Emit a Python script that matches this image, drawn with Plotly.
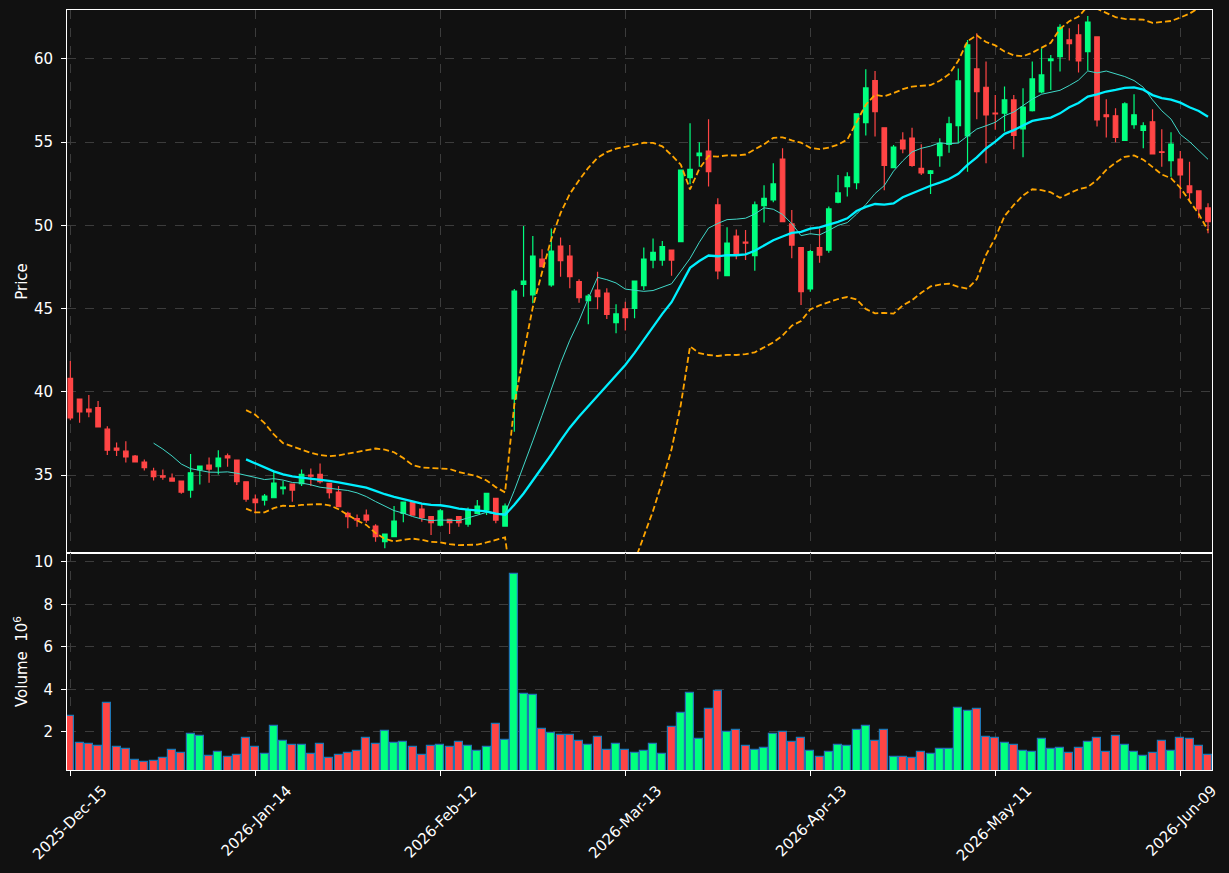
import pandas as pd
import numpy as np
import plotly.graph_objects as go
from plotly.subplots import make_subplots

# ---------------- data ----------------
holidays = ["2025-12-25", "2026-01-01", "2026-01-19", "2026-02-16", "2026-04-03", "2026-05-25"]
dates = [d for d in pd.bdate_range("2025-12-15", "2026-06-12") if d.strftime("%Y-%m-%d") not in holidays]

open_ = [40.81, 39.57, 38.97, 39.05, 37.76, 36.62, 36.44, 36.14, 35.78, 35.24,
         34.96, 34.82, 34.64, 34.10, 35.32, 35.60, 35.50, 36.16, 35.90, 34.60,
         33.56, 33.50, 33.64, 34.18, 34.46, 34.48, 35.00, 35.04, 34.50, 33.98,
         32.70, 32.38, 32.60, 31.94, 31.00, 31.30, 32.70, 33.38, 32.96, 32.50,
         32.00, 32.34, 32.50, 32.06, 32.70, 32.90, 33.60, 31.94, 39.57, 46.46,
         45.82, 47.98, 46.42, 48.76, 48.16, 46.62, 45.48, 46.12, 45.94, 44.16,
         44.98, 45.02, 46.38, 47.92, 47.92, 48.52, 49.02, 52.87, 54.19, 54.47,
         51.23, 46.98, 49.36, 49.00, 48.18, 51.19, 51.53, 53.99, 50.09, 48.66,
         46.18, 48.66, 48.52, 51.39, 52.33, 52.57, 56.18, 58.70, 55.86, 53.47,
         55.13, 55.25, 53.43, 53.13, 54.19, 54.87, 55.99, 55.37, 59.40, 58.30,
         56.74, 56.74, 57.54, 55.79, 56.90, 58.02, 59.90, 60.14, 61.14, 61.44,
         60.44, 61.32, 56.64, 56.58, 55.10, 56.06, 55.70, 56.22, 54.42, 53.89,
         53.99, 52.37, 52.07, 51.05]

high = [41.85, 39.57, 39.81, 39.45, 37.94, 36.96, 37.04, 36.20, 35.94, 35.44,
        35.34, 35.10, 34.64, 36.26, 35.54, 36.06, 36.50, 36.30, 35.90, 34.60,
        33.84, 33.86, 35.26, 34.64, 34.46, 35.34, 35.40, 35.70, 34.50, 34.34,
        32.80, 32.64, 32.94, 32.04, 31.46, 33.14, 33.38, 33.38, 33.30, 32.50,
        32.96, 32.34, 32.50, 33.06, 33.50, 33.90, 33.60, 33.30, 46.18, 49.97,
        49.36, 48.56, 49.82, 49.28, 48.82, 46.76, 45.88, 47.22, 46.22, 45.26,
        45.42, 46.66, 48.68, 49.22, 49.06, 48.52, 53.32, 56.13, 54.99, 56.37,
        51.63, 49.89, 49.76, 49.72, 51.43, 52.41, 53.73, 54.63, 50.93, 48.66,
        48.52, 49.82, 51.13, 53.03, 53.19, 56.70, 59.38, 59.28, 55.86, 54.83,
        55.59, 55.86, 54.87, 53.33, 55.23, 56.53, 59.42, 61.14, 61.54, 59.84,
        57.84, 58.34, 57.84, 58.24, 59.84, 60.64, 60.24, 62.08, 61.84, 62.08,
        62.58, 61.32, 57.58, 57.04, 57.40, 57.88, 56.20, 56.98, 55.78, 55.59,
        54.47, 53.83, 52.07, 51.33]

low = [38.30, 38.14, 38.48, 37.90, 36.20, 36.14, 35.76, 35.76, 35.28, 34.68,
       34.72, 34.60, 33.88, 33.64, 34.44, 34.54, 35.04, 35.50, 34.40, 33.40,
       32.70, 33.18, 33.64, 33.84, 33.40, 34.34, 34.34, 34.50, 33.60, 33.10,
       31.80, 31.90, 32.14, 31.00, 30.60, 31.30, 32.16, 32.60, 32.20, 31.40,
       31.92, 31.46, 31.90, 31.90, 32.66, 32.60, 32.10, 31.90, 37.61, 45.72,
       45.32, 47.52, 46.32, 46.92, 46.22, 45.36, 44.06, 44.96, 44.38, 43.52,
       43.68, 44.42, 46.12, 47.42, 47.58, 46.98, 49.02, 52.47, 53.53, 52.33,
       46.76, 46.98, 47.96, 47.92, 47.28, 50.17, 51.39, 50.23, 48.02, 45.22,
       46.02, 47.76, 48.36, 51.33, 51.73, 52.17, 55.40, 55.34, 52.11, 53.47,
       54.33, 53.53, 53.03, 51.89, 53.53, 54.37, 54.93, 53.23, 56.37, 53.73,
       55.74, 55.64, 54.58, 54.09, 56.84, 57.94, 58.14, 59.24, 59.90, 59.18,
       59.30, 55.94, 55.28, 55.00, 55.10, 55.80, 54.64, 54.30, 53.53, 52.93,
       51.63, 51.43, 50.43, 49.53]

close = [38.44, 38.80, 38.80, 37.90, 36.50, 36.50, 36.10, 35.80, 35.44, 34.90,
         34.88, 34.64, 33.98, 35.14, 35.54, 35.36, 36.02, 36.04, 34.60, 33.56,
         33.34, 33.74, 34.52, 34.28, 34.10, 35.04, 34.94, 34.60, 33.94, 33.10,
         32.50, 32.30, 32.30, 31.30, 31.46, 32.24, 33.38, 32.60, 32.44, 32.14,
         32.85, 32.14, 32.14, 32.90, 33.14, 33.90, 32.30, 33.14, 46.06, 46.66,
         48.16, 47.52, 48.46, 47.88, 46.92, 45.66, 45.76, 45.72, 44.66, 44.68,
         44.46, 46.66, 47.98, 48.38, 48.72, 47.92, 53.32, 53.37, 54.35, 53.23,
         47.26, 48.94, 48.28, 48.94, 51.23, 51.63, 52.49, 50.23, 48.82, 46.02,
         48.42, 48.22, 50.99, 51.95, 52.91, 56.70, 58.26, 56.84, 53.60, 54.71,
         54.59, 53.60, 53.15, 53.27, 54.93, 56.10, 58.68, 60.84, 58.04, 56.64,
         56.70, 57.54, 55.40, 57.10, 58.80, 59.04, 60.00, 61.90, 60.92, 59.88,
         62.22, 56.34, 56.54, 55.28, 57.30, 56.64, 55.98, 54.30, 54.38, 54.89,
         53.03, 51.97, 50.99, 50.23]

volume_m = [2.75, 1.48, 1.42, 1.34, 3.36, 1.30, 1.20, 0.68, 0.58, 0.62,
            0.78, 1.15, 1.01, 1.89, 1.81, 0.87, 1.06, 0.83, 0.92, 1.72,
            1.30, 0.97, 2.28, 1.58, 1.39, 1.39, 0.97, 1.44, 0.78, 0.92,
            1.01, 1.11, 1.72, 1.44, 2.05, 1.47, 1.53, 1.30, 0.92, 1.34,
            1.39, 1.30, 1.53, 1.34, 1.11, 1.30, 2.38, 1.62, 9.42, 3.78,
            3.74, 2.14, 1.95, 1.86, 1.86, 1.58, 1.39, 1.77, 1.15, 1.44,
            1.15, 1.01, 1.11, 1.44, 0.97, 2.23, 2.89, 3.83, 1.67, 3.08,
            3.93, 2.00, 2.09, 1.34, 1.15, 1.25, 1.91, 2.00, 1.53, 1.72,
            1.11, 0.83, 1.06, 1.39, 1.34, 2.09, 2.28, 1.58, 2.09, 0.83,
            0.83, 0.78, 1.06, 0.97, 1.20, 1.20, 3.13, 2.99, 3.08, 1.77,
            1.72, 1.48, 1.39, 1.11, 1.06, 1.67, 1.20, 1.25, 1.01, 1.25,
            1.53, 1.72, 1.06, 1.81, 1.39, 1.06, 0.87, 1.01, 1.58, 1.11,
            1.72, 1.67, 1.34, 0.92]

tick_every = 20

# ---------------- derived ----------------
x = list(range(len(dates)))
cs = pd.Series(close)
ma10 = cs.rolling(10).mean()
ma20 = cs.rolling(20).mean()
sd20 = cs.rolling(20).std(ddof=0)
upper = ma20 + 2 * sd20
lower = ma20 - 2 * sd20

def clean(s):
    return [None if pd.isna(v) else v for v in s]

UP = "#00FF7F"
DOWN = "#FF4545"
vol_colors = [UP if c >= o else DOWN for o, c in zip(open_, close)]

tickvals = x[::tick_every]
ticktext = [dates[i].strftime("%Y-%b-%d") for i in tickvals]

# ---------------- figure ----------------
fig = make_subplots(rows=2, cols=1, shared_xaxes=True, vertical_spacing=0,
                    row_heights=[543, 217])

fig.add_trace(go.Candlestick(
    x=x, open=open_, high=high, low=low, close=close,
    increasing=dict(line=dict(color=UP, width=1.2), fillcolor=UP),
    decreasing=dict(line=dict(color=DOWN, width=1.2), fillcolor=DOWN),
    whiskerwidth=0, showlegend=False), row=1, col=1)

fig.add_trace(go.Scatter(x=x, y=clean(upper), mode="lines",
                         line=dict(color="#FFA500", width=1.8, dash="6px,3px"),
                         showlegend=False), row=1, col=1)
fig.add_trace(go.Scatter(x=x, y=clean(lower), mode="lines",
                         line=dict(color="#FFA500", width=1.8, dash="6px,3px"),
                         showlegend=False), row=1, col=1)
fig.add_trace(go.Scatter(x=x, y=clean(ma10), mode="lines",
                         line=dict(color="#40D8C8", width=1),
                         showlegend=False), row=1, col=1)
fig.add_trace(go.Scatter(x=x, y=clean(ma20), mode="lines",
                         line=dict(color="#00F0FF", width=2.3),
                         showlegend=False), row=1, col=1)

fig.add_trace(go.Bar(x=x, y=volume_m, width=0.86,
                     marker=dict(color=vol_colors, line=dict(color="#1F77B4", width=1.2)),
                     showlegend=False), row=2, col=1)

BG = "#111111"
GRID = "#3C3C3C"
FONT = dict(family="DejaVu Sans", size=15, color="white")

axis_common = dict(showline=True, mirror=True, linecolor="white", linewidth=1,
                   showgrid=True, gridcolor=GRID, griddash="dash", gridwidth=1,
                   zeroline=False, tickfont=FONT, tickcolor="white", automargin=False)

fig.update_layout(
    width=1229, height=873,
    margin=dict(l=67, r=17, t=10, b=103),
    paper_bgcolor=BG, plot_bgcolor=BG,
    font=FONT, showlegend=False, bargap=0,
    xaxis=dict(**axis_common, range=[-0.36, 123.43], tickvals=tickvals,
               showticklabels=False, ticks="", rangeslider=dict(visible=False)),
    xaxis2=dict(**axis_common, range=[-0.36, 123.43], tickvals=tickvals,
                ticktext=ticktext, tickangle=-45, ticks="outside", ticklen=5,
                ticklabelshift=32, rangeslider=dict(visible=False)),
    yaxis=dict(**axis_common, range=[30.32, 62.94], tickvals=[35, 40, 45, 50, 55, 60],
               ticks="outside", ticklen=5, ticklabelstandoff=5,
               title=dict(text="Price", font=FONT, standoff=2)),
    yaxis2=dict(**axis_common, range=[0.21, 10.42], tickvals=[2, 4, 6, 8, 10],
                ticks="outside", ticklen=5, ticklabelstandoff=5,
                title=dict(text="Volume  10<sup>6</sup>", font=FONT, standoff=2)),
)

fig.write_html("out.html")
